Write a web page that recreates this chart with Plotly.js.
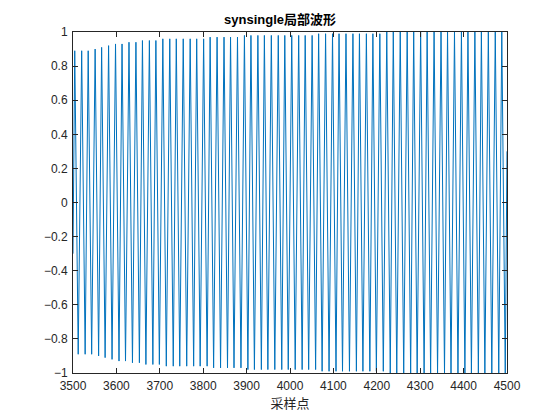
<!DOCTYPE html><html><head><meta charset="utf-8"><script src="https://cdn.plot.ly/plotly-3.0.1.min.js"></script></head><body style="margin:0"><div id="c" style="width:560px;height:420px"></div><script>
const peakX=[3504,3520,3535,3551,3566,3582,3598,3613,3629,3645,3660,3676,3691,3707,3723,3738,3754,3770,3785,3801,3816,3832,3848,3863,3879,3895,3910,3926,3941,3957,3973,3988,4004,4020,4035,4051,4066,4082,4098,4113,4129,4145,4160,4176,4191,4207,4223,4238,4254,4270,4285,4301,4316,4332,4348,4363,4379,4395,4410,4426,4441,4457,4473,4488];
const troughX=[3512,3528,3543,3559,3574,3590,3606,3621,3637,3653,3668,3684,3699,3715,3731,3746,3762,3778,3793,3809,3824,3840,3856,3871,3887,3903,3918,3934,3949,3965,3981,3996,4012,4028,4043,4059,4074,4090,4106,4121,4137,4153,4168,4184,4199,4215,4231,4246,4262,4278,4293,4309,4324,4340,4356,4371,4387,4403,4418,4434,4449,4465,4481,4496];
const amp=[0.89,0.89,0.89,0.90,0.91,0.92,0.93,0.93,0.94,0.94,0.95,0.95,0.95,0.96,0.96,0.96,0.96,0.96,0.96,0.96,0.97,0.97,0.97,0.97,0.97,0.98,0.98,0.98,0.98,0.98,0.98,0.98,0.98,0.98,0.98,0.98,0.99,0.99,0.99,0.99,0.99,0.99,0.99,0.99,0.99,0.99,1,1,1,1,1,1,1,1,1,1,1,1,1,1,1,1,1,1];
const xs=[3500],ys=[-0.3];
for(let i=0;i<peakX.length;i++){xs.push(peakX[i],troughX[i]);ys.push(amp[i],-amp[i]);}
xs.push(4500);ys.push(0.3);
const ax={showline:true,mirror:'ticks',linecolor:'#262626',ticks:'inside',ticklen:5,tickcolor:'#262626',showgrid:false,zeroline:false,tickfont:{family:'Arial',size:12,color:'#262626'}};
Plotly.newPlot('c',[{x:xs,y:ys,mode:'lines',line:{color:'#0072BD',width:1}}],{
width:560,height:420,paper_bgcolor:'#fff',plot_bgcolor:'#fff',showlegend:false,
margin:{l:73,r:53,t:32,b:47},
title:{text:'<b>synsingle局部波形</b>',x:0.5,xanchor:'center',y:0.965,font:{family:'Arial, Noto Sans CJK SC',size:13,color:'#000'}},
xaxis:Object.assign({},ax,{range:[3500,4500],dtick:100,ticklabelstandoff:2,title:{text:'采样点',font:{family:'Noto Sans CJK SC',size:13,color:'#262626'},standoff:2}}),
yaxis:Object.assign({},ax,{range:[-1,1],dtick:0.2,tickformat:'~g',ticklabelstandoff:2})
},{displayModeBar:false});
</script></body></html>
